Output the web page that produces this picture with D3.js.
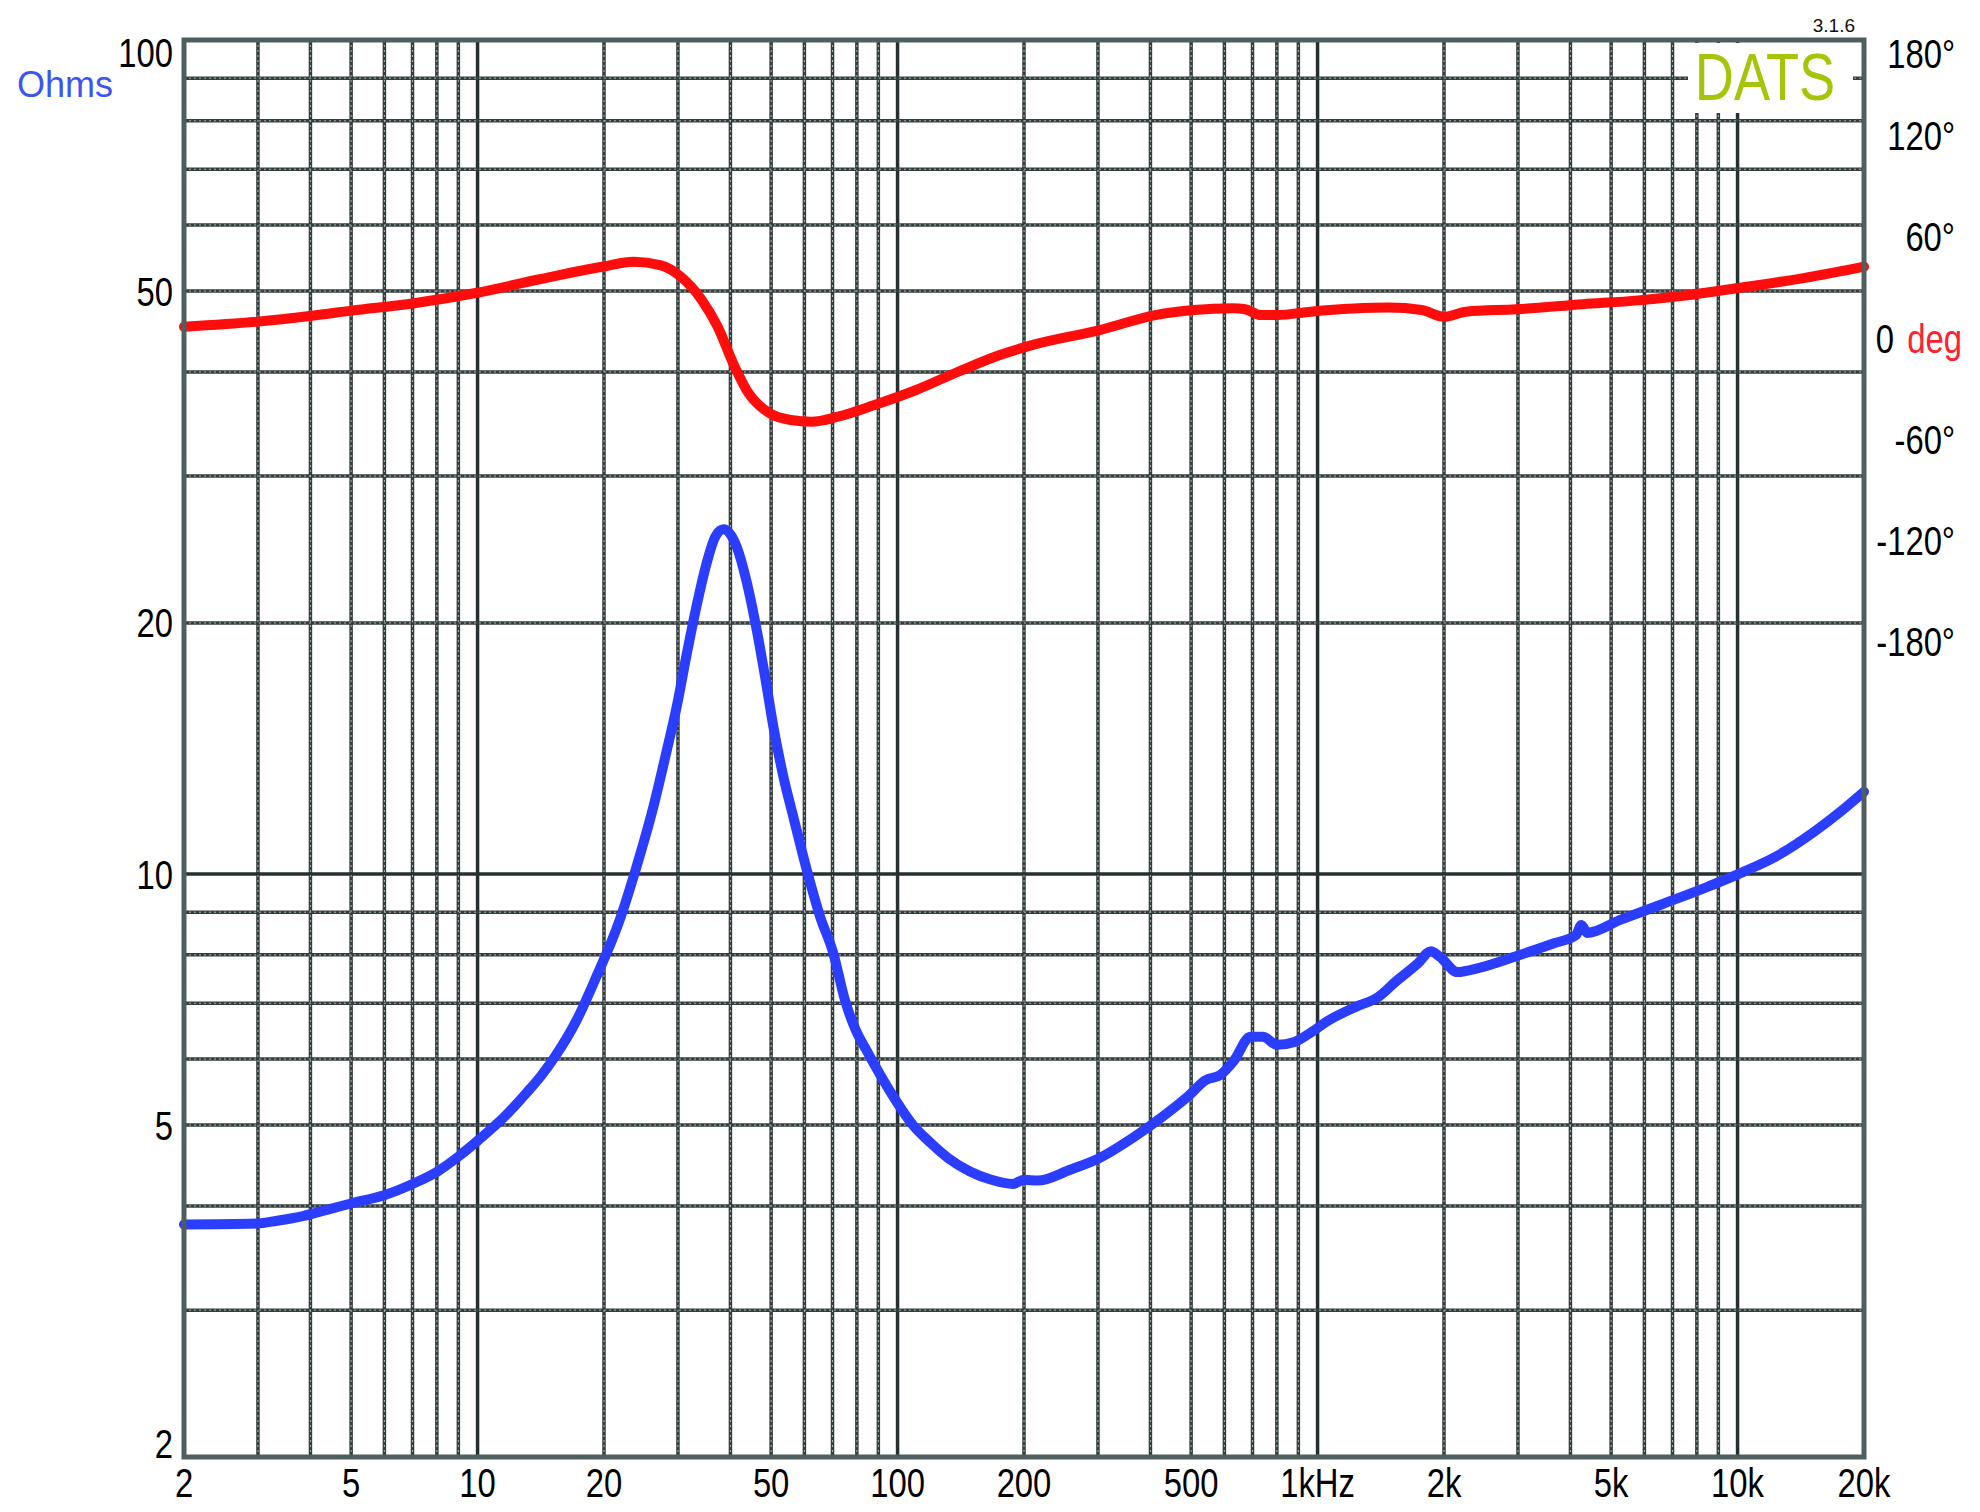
<!DOCTYPE html>
<html lang="en">
<head>
<meta charset="UTF-8">
<title>Impedance / phase</title>
<script src="https://cdn.jsdelivr.net/npm/d3@7"></script>
<style>
  body { margin: 0; background: #fff; }
  svg { display: block; }
</style>
</head>
<body>
<svg id="chart" width="1980" height="1512"></svg>
<script>
// impedance magnitude (Hz, ohms)
const impFreq = [2, 2.99, 3.33, 3.84, 4.4, 5.02, 5.99, 7.0, 8.03, 9.03, 10.06, 11.65, 13.1, 14.17, 15.32, 17.24, 19.0,
  21.8, 23.9, 26.1, 28.1, 29.8, 31.5, 33.2, 35.1, 36.8, 38.5, 41.4, 43.7, 46.2, 48.8, 50.6, 53.5, 56.5, 60.8, 65.4, 70.3,
  75, 79.5, 84.3, 91.2, 98.6, 108.8, 119.9, 132.3, 148.7, 167.2, 188.2, 199.6, 215.8, 257.4, 301, 366, 428, 491, 541, 586,
  633, 692, 741, 801, 881, 970, 1054, 1233, 1393, 1535, 1732, 1861, 1954, 2152, 2427, 2944, 3656, 4126, 4248, 4383,
  5254, 6684, 8511, 10326, 12527, 15192, 17554, 20000];
const impOhms = [3.80, 3.81, 3.84, 3.89, 3.96, 4.03, 4.12, 4.25, 4.40, 4.59, 4.80, 5.13, 5.47, 5.73, 6.05, 6.69, 7.45,
  8.81, 10.2, 11.93, 13.94, 15.88, 18.38, 20.93, 23.58, 25.37, 25.9, 24.68, 22.43, 19.62, 16.78, 15.03, 13.07, 11.7, 10.11, 8.89, 8.04,
  7.05, 6.5, 6.15, 5.73, 5.37, 5.0, 4.76, 4.56, 4.40, 4.30, 4.25, 4.30, 4.29, 4.42, 4.56, 4.84, 5.12, 5.41, 5.66, 5.74,
  5.98, 6.38, 6.38, 6.24, 6.29, 6.47, 6.66, 6.93, 7.12, 7.43, 7.81, 8.08, 7.96, 7.63, 7.72, 7.96, 8.26, 8.45, 8.69, 8.50,
  8.81, 9.22, 9.66, 10.06, 10.54, 11.23, 11.87, 12.55];

// phase (Hz, degrees)
const phaseFreq = [2, 2.99, 3.98, 5.01, 7.06, 9.97, 14.05, 19.8, 23.55, 27.2, 30.5, 34.2, 37.3, 40.6, 44.2, 49.6, 55.7,
  62.4, 72.1, 88.1, 110.7, 139.4, 175.2, 210, 303, 411, 508, 629, 669, 733, 803, 964, 1476, 1771, 2000, 2258, 2970,
  4278, 5800, 7864, 10028, 14448, 20000];
const phaseDeg = [6.7, 9.7, 13.0, 16.2, 20.6, 26.8, 34.8, 42.2, 45.2, 43.2, 36.3, 22.5, 6.7, -15.0, -32.8, -44.6, -48.6,
  -49.6, -46.6, -39.7, -30.8, -20.0, -10.1, -4.1, 4.7, 13.6, 16.6, 17.6, 17.2, 13.6, 13.6, 15.6, 18.0, 16.6, 12.6, 15.6, 17.0,
  20.0, 22.3, 25.8, 29.6, 35.6, 42.3];

const ohmLabels = [100, 50, 20, 10, 5, 2];
const freqLabels = [2, 5, 10, 20, 50, 100, 200, 500, 1000, 2000, 5000, 10000, 20000];
const freqText = ["2", "5", "10", "20", "50", "100", "200", "500", "1kHz", "2k", "5k", "10k", "20k"];
const phaseTicks = [180, 120, 60, -60, -120, -180];

const pLeft = 184, pRight = 1864, pTop = 40, pBottom = 1457;
const svg = d3.select("#chart");

const x = d3.scaleLog().domain([2, 20000]).range([pLeft, pRight]);
const y = d3.scaleLog().domain([2, 100]).range([pBottom, pTop]);
const yPh = d3.scaleLinear().domain([-180, 180]).range([641.8, 34.2]);

// is a narrow face installed? otherwise squeeze the regular one
const NARROW = '"Liberation Sans Narrow", "Arial Narrow", "Liberation Sans", Arial, sans-serif';
const probe = svg.append("text").style("font-size", "40px").text("1000000");
probe.style("font-family", '"Liberation Sans", Arial');
const wReg = probe.node().getComputedTextLength();
probe.style("font-family", NARROW);
const wNar = probe.node().getComputedTextLength();
probe.remove();
const squeeze = wNar < wReg * 0.9 ? 1 : 0.82;

function narrow(sel) {
  sel.style("font-family", NARROW);
  if (squeeze < 1) {
    sel.each(function() {
      const len = this.getComputedTextLength();
      d3.select(this).attr("textLength", len * squeeze).attr("lengthAdjust", "spacingAndGlyphs");
    });
  }
  return sel;
}

// grid
const grid = svg.append("g");
const isDecade = v => Math.abs(Math.log10(v) - Math.round(Math.log10(v))) < 1e-9;

const vTicks = x.ticks().filter(f => f > 2 && f < 20000);
const hTicks = y.ticks().filter(v => v > 2 && v < 100);

function gridLines(sel, horiz) {
  sel.attr("x1", d => horiz ? pLeft : x(d))
     .attr("x2", d => horiz ? pRight : x(d))
     .attr("y1", d => horiz ? y(d) : pTop)
     .attr("y2", d => horiz ? y(d) : pBottom);
}

grid.selectAll(".vl").data(vTicks).join("line").call(gridLines, false)
  .attr("stroke", d => isDecade(d) ? "#263030" : "#353e3e").attr("stroke-width", 3.5);
grid.selectAll(".hl").data(hTicks).join("line").call(gridLines, true)
  .attr("stroke", d => isDecade(d) ? "#263030" : "#353e3e").attr("stroke-width", 3.5);
// light stitching on the minor lines
grid.selectAll(".vd").data(vTicks.filter(d => !isDecade(d))).join("line").call(gridLines, false)
  .attr("stroke", "#aab4b4").attr("stroke-width", 1).attr("stroke-dasharray", "2,3");
grid.selectAll(".hd").data(hTicks.filter(d => !isDecade(d))).join("line").call(gridLines, true)
  .attr("stroke", "#aab4b4").attr("stroke-width", 1).attr("stroke-dasharray", "2,3");

// DATS badge
svg.append("rect").attr("x", 1688).attr("y", 43).attr("width", 165).attr("height", 70).attr("fill", "#fff");
svg.append("text").attr("x", 1765).attr("y", 100).attr("text-anchor", "middle")
  .style("font-size", "66px").attr("fill", "#a6c40a").text("DATS").call(narrow);
svg.append("text").attr("x", 1855).attr("y", 32).attr("text-anchor", "end")
  .style("font-family", '"Liberation Sans", Arial, sans-serif').style("font-size", "19px")
  .attr("fill", "#111").text("3.1.6");

// curves
const impData = impFreq.map((f, i) => ({ f, v: impOhms[i] }));
const phData = phaseFreq.map((f, i) => ({ f, v: phaseDeg[i] }));

svg.append("path").datum(phData)
  .attr("d", d3.line().x(d => x(d.f)).y(d => yPh(d.v)).curve(d3.curveMonotoneX))
  .attr("fill", "none").attr("stroke", "#ff0c0c").attr("stroke-width", 10)
  .attr("stroke-linecap", "round").attr("stroke-linejoin", "round");

svg.append("path").datum(impData)
  .attr("d", d3.line().x(d => x(d.f)).y(d => y(d.v)).curve(d3.curveMonotoneX))
  .attr("fill", "none").attr("stroke", "#2b3dff").attr("stroke-width", 10)
  .attr("stroke-linecap", "round").attr("stroke-linejoin", "round");

// frame
svg.append("rect").attr("x", pLeft).attr("y", pTop).attr("width", pRight - pLeft).attr("height", pBottom - pTop)
  .attr("fill", "none").attr("stroke", "#4f5f5f").attr("stroke-width", 5);

// left axis labels
svg.selectAll(".yl").data(ohmLabels).join("text")
  .attr("x", 173)
  .attr("y", d => Math.max(67, Math.min(1458, y(d) + 14.5)))
  .attr("text-anchor", "end").style("font-size", "40px").attr("fill", "#000")
  .text(d => d).call(narrow);

svg.append("text").attr("x", 17).attr("y", 97)
  .style("font-family", '"Liberation Sans", Arial, sans-serif').style("font-size", "36px")
  .attr("fill", "#3a55f0").text("Ohms");

// bottom axis labels
svg.selectAll(".xl").data(freqLabels).join("text")
  .attr("x", d => x(d)).attr("y", 1497)
  .attr("text-anchor", "middle").style("font-size", "40px").attr("fill", "#000")
  .text((d, i) => freqText[i]).call(narrow);

// right axis (phase) labels
svg.selectAll(".pl").data(phaseTicks).join("text")
  .attr("x", 1955)
  .attr("y", d => Math.max(68, yPh(d) + 14.5))
  .attr("text-anchor", "end").style("font-size", "40px").attr("fill", "#000")
  .text(d => d + "\u00b0").call(narrow);

svg.append("text").attr("x", 1962).attr("y", yPh(0) + 14.5).attr("text-anchor", "end")
  .style("font-size", "40px").attr("fill", "#ff2030").text("deg").call(narrow);
svg.append("text").attr("x", 1894).attr("y", yPh(0) + 14.5).attr("text-anchor", "end")
  .style("font-size", "40px").attr("fill", "#000").text("0").call(narrow);
</script>
</body>
</html>
